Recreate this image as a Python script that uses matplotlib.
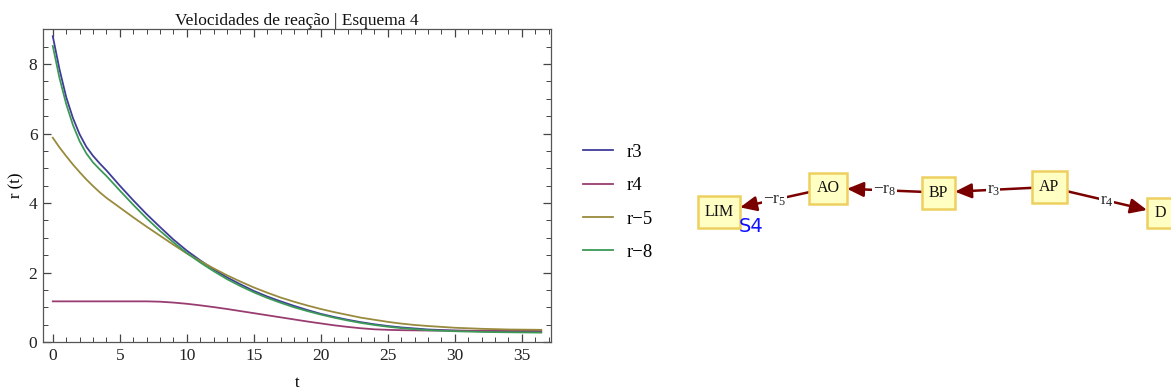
import matplotlib
matplotlib.use("Agg")
import matplotlib.pyplot as plt
from matplotlib.ticker import MultipleLocator
from matplotlib.patches import Rectangle, FancyArrowPatch

plt.rcParams["font.family"] = ["Liberation Serif", "DejaVu Serif"]
plt.rcParams["mathtext.fontset"] = "custom"
plt.rcParams["mathtext.rm"] = "Liberation Serif"
plt.rcParams["mathtext.it"] = "Liberation Serif:italic"

# ---- reaction rates over time ----
t = [0, 0.5, 1, 1.5, 2, 2.5, 3, 3.5, 4, 5, 6, 7, 8, 9, 10, 11, 12, 13, 14,
     15, 16, 17, 18, 19, 20, 21, 22, 23, 24, 25, 26, 27, 28, 30, 32, 34, 36.45]

r3 = [8.80, 7.85, 7.05, 6.45, 5.98, 5.62, 5.36, 5.14, 4.94, 4.50, 4.08, 3.68,
      3.31, 2.95, 2.63, 2.35, 2.09, 1.86, 1.66, 1.47, 1.31, 1.17, 1.04, 0.92,
      0.81, 0.72, 0.64, 0.57, 0.51, 0.46, 0.42, 0.39, 0.36, 0.33, 0.31, 0.30,
      0.29]
r4 = [1.17, 1.17, 1.17, 1.17, 1.17, 1.17, 1.17, 1.17, 1.17, 1.17, 1.17, 1.17,
      1.16, 1.135, 1.10, 1.055, 1.005, 0.95, 0.89, 0.83, 0.77, 0.71, 0.65,
      0.59, 0.535, 0.48, 0.435, 0.395, 0.365, 0.35, 0.34, 0.335, 0.33, 0.325,
      0.325, 0.325, 0.325]
r_5 = [5.88, 5.60, 5.35, 5.11, 4.89, 4.68, 4.49, 4.31, 4.15, 3.87, 3.59, 3.32,
       3.06, 2.80, 2.55, 2.33, 2.12, 1.92, 1.74, 1.57, 1.42, 1.28, 1.16, 1.05,
       0.95, 0.86, 0.78, 0.70, 0.64, 0.58, 0.53, 0.49, 0.46, 0.41, 0.38, 0.36,
       0.35]
r_8 = [8.52, 7.60, 6.85, 6.25, 5.78, 5.43, 5.17, 4.97, 4.78, 4.36, 3.95, 3.56,
       3.20, 2.87, 2.56, 2.29, 2.04, 1.81, 1.61, 1.43, 1.27, 1.13, 1.00, 0.89,
       0.79, 0.70, 0.62, 0.55, 0.49, 0.44, 0.40, 0.37, 0.34, 0.31, 0.29, 0.28,
       0.27]

series_labels = ["r3", "r4", "r\u22125", "r\u22128"]
series_colors = ["#3F3D99", "#993D71", "#998B3D", "#3D9956"]

W, H = 1171, 392
fig = plt.figure(figsize=(W / 100, H / 100), dpi=100)

ax = fig.add_axes([43 / W, 1 - 342 / H, 508 / W, 312.7 / H])
handles = []
for y, lab, col in zip([r3, r4, r_5, r_8], series_labels, series_colors):
    h, = ax.plot(t, y, color=col, lw=1.3, label=lab)
    handles.append(h)

ax.set_xlim(-0.73, 37.18)
ax.set_ylim(0, 9.0)
ax.xaxis.set_major_locator(MultipleLocator(5))
ax.xaxis.set_minor_locator(MultipleLocator(1))
ax.yaxis.set_major_locator(MultipleLocator(2))
ax.yaxis.set_minor_locator(MultipleLocator(0.5))
ax.tick_params(which="both", direction="in", top=True, right=True,
               color="#444444", labelsize=12.5, labelcolor="#222222", pad=4)
ax.tick_params(which="major", length=6, width=0.9)
ax.tick_params(which="minor", length=3.5, width=0.7)
for s in ax.spines.values():
    s.set_color("#555555")
    s.set_linewidth(0.9)

ax.set_title("Velocidades de reação | Esquema 4", fontsize=12.5, pad=3,
             color="#111111")
ax.set_xlabel("t", fontsize=12, labelpad=8)
ax.set_ylabel("r (t)", fontsize=12, labelpad=3)

fig.legend(handles=handles, labels=series_labels, loc="upper left",
           bbox_to_anchor=(566 / W, 1 - 127 / H), frameon=False,
           fontsize=13.5, handlelength=1.6, handletextpad=0.75,
           labelspacing=0.86)

# ---- reaction scheme ----
net = fig.add_axes([0, 0, 1, 1])
net.set_xlim(0, W)
net.set_ylim(H, 0)
net.axis("off")
net.patch.set_alpha(0)

nodes = {
    "LIM": (719, 212, 42, 32),
    "AO": (828, 188, 38, 31),
    "BP": (938.5, 192.5, 33, 32),
    "AP": (1049, 187, 35, 32),
    "D": (1160, 213, 26, 30),
}
edges = [
    ("AP", "BP", r"$\mathrm{r}_3$"),
    ("AP", "D", r"$\mathrm{r}_4$"),
    ("BP", "AO", r"$-\mathrm{r}_8$"),
    ("AO", "LIM", r"$-\mathrm{r}_5$"),
]


def border_point(node, toward):
    cx, cy, w, h = nodes[node]
    dx, dy = toward[0] - cx, toward[1] - cy
    s = min((w / 2) / abs(dx) if dx else 1e9, (h / 2) / abs(dy) if dy else 1e9)
    return cx + dx * s, cy + dy * s


for a, b, lab in edges:
    ca, cb = nodes[a][:2], nodes[b][:2]
    p0 = border_point(a, cb)
    p1 = border_point(b, ca)
    arr = FancyArrowPatch(p0, p1, arrowstyle="-|>,head_length=10,head_width=4.5",
                          color="#7A0000", lw=1.8, shrinkA=0, shrinkB=0,
                          zorder=2)
    net.add_patch(arr)
    mx, my = (p0[0] + p1[0]) / 2, (p0[1] + p1[1]) / 2
    net.text(mx, my, lab, ha="center", va="center", fontsize=12.5,
             color="#222222", zorder=3,
             bbox=dict(fc="white", ec="none", pad=0.2))

for name, (cx, cy, w, h) in nodes.items():
    net.add_patch(Rectangle((cx - w / 2, cy - h / 2), w, h, fc="#FFFFC4",
                            ec="#EDD060", lw=1.8, zorder=4))
    net.text(cx, cy, name, ha="center", va="center", fontsize=11.5,
             color="#111111", zorder=5)

net.text(739, 226, "S4", ha="left", va="center", fontsize=14,
         color="#1010FF", family="DejaVu Sans", zorder=6)

fig.savefig("out.png", dpi=100, facecolor="white")
